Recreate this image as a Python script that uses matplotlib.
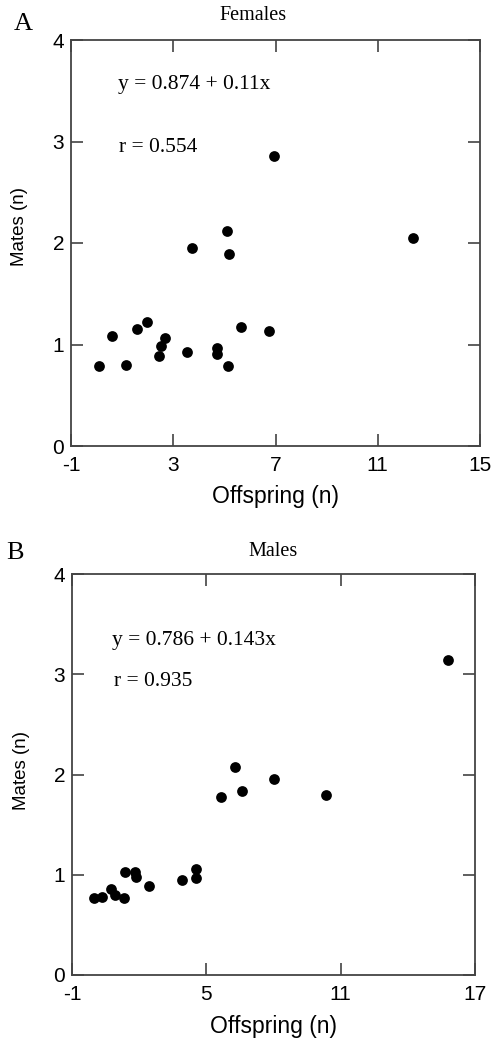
import matplotlib
matplotlib.use("Agg")
import matplotlib.pyplot as plt

plt.rcParams["axes.unicode_minus"] = False

# Females
f_offspring = [0.10, 0.59, 1.15, 1.57, 1.99, 2.46, 2.52, 2.69, 3.52, 3.72,
               4.72, 4.72, 5.12, 5.18, 5.15, 5.66, 6.73, 6.95, 12.37]
f_mates = [0.79, 1.08, 0.80, 1.15, 1.22, 0.89, 0.99, 1.06, 0.93, 1.95,
           0.97, 0.91, 2.12, 1.89, 0.785, 1.17, 1.13, 2.86, 2.05]

# Males
m_offspring = [-0.02, 0.33, 0.74, 0.92, 1.32, 1.37, 1.83, 1.86, 2.44, 3.93,
               4.52, 4.52, 5.67, 6.28, 6.58, 8.01, 10.34, 15.78]
m_mates = [0.765, 0.775, 0.86, 0.80, 0.77, 1.03, 1.03, 0.98, 0.89, 0.95,
           1.06, 0.97, 1.78, 2.07, 1.84, 1.96, 1.80, 3.14]

f_xticks = [-1, 3, 7, 11, 15]
m_xticks = [-1, 5, 11, 17]
yticks = [0, 1, 2, 3, 4]

W, H = 493, 1039
fig = plt.figure(figsize=(W / 100, H / 100), dpi=100)

sans = "Liberation Sans"
serif = "Liberation Serif"


def make_panel(rect, xs, ys, xticks, title, letter, eq, rtxt,
               title_xy, letter_xy, eq_xy, r_xy, ylab_y):
    ax = fig.add_axes(rect)
    ax.scatter(xs, ys, s=60, color="black", zorder=3, linewidths=0)
    ax.set_xlim(xticks[0], xticks[-1])
    ax.set_ylim(0, 4)
    ax.set_xticks(xticks)
    ax.set_yticks(yticks)
    ax.tick_params(direction="in", length=8.5, width=1.1, color="#333333",
                   top=True, right=True, labeltop=False, labelright=False,
                   labelsize=15)
    ax.tick_params(axis="x", pad=7)
    ax.tick_params(axis="y", pad=5)
    for lab in ax.get_xticklabels() + ax.get_yticklabels():
        lab.set_fontfamily(sans)
    for sp in ax.spines.values():
        sp.set_linewidth(1.3)
        sp.set_color("#444444")
    ax.set_xlabel("Offspring (n)", fontsize=16.5, fontfamily=sans)
    ax.set_ylabel("Mates (n)", fontsize=13.5, fontfamily=sans)
    ax.xaxis.label.set_va("center")
    ax.yaxis.label.set_va("center")
    ax.xaxis.set_label_coords(0.5, -51 / (rect[3] * H))
    ax.yaxis.set_label_coords(-51 / (rect[2] * W), ylab_y)
    fig.text(title_xy[0] / W, 1 - title_xy[1] / H, title, fontsize=14.5,
             fontfamily=serif, ha="center", va="center")
    fig.text(letter_xy[0] / W, 1 - letter_xy[1] / H, letter, fontsize=19,
             fontfamily=serif, ha="center", va="center")
    fig.text(eq_xy[0] / W, 1 - eq_xy[1] / H, eq, fontsize=15.5,
             fontfamily=serif, ha="left", va="center")
    fig.text(r_xy[0] / W, 1 - r_xy[1] / H, rtxt, fontsize=15.5,
             fontfamily=serif, ha="left", va="center")
    return ax


ax1 = make_panel([71 / W, 1 - 446 / H, (480 - 71) / W, (446 - 40) / H],
                 f_offspring, f_mates, f_xticks, "Females", "A",
                 "y = 0.874 + 0.11x", "r = 0.554",
                 (253, 15), (23, 24), (118, 84), (119, 147), 0.54)
ax2 = make_panel([72 / W, 1 - 975 / H, (475 - 72) / W, (975 - 574) / H],
                 m_offspring, m_mates, m_xticks, "Males", "B",
                 "y = 0.786 + 0.143x", "r = 0.935",
                 (273, 551), (15, 553), (112, 640), (114, 682), 0.51)

fig.savefig("out.png", dpi=100)
